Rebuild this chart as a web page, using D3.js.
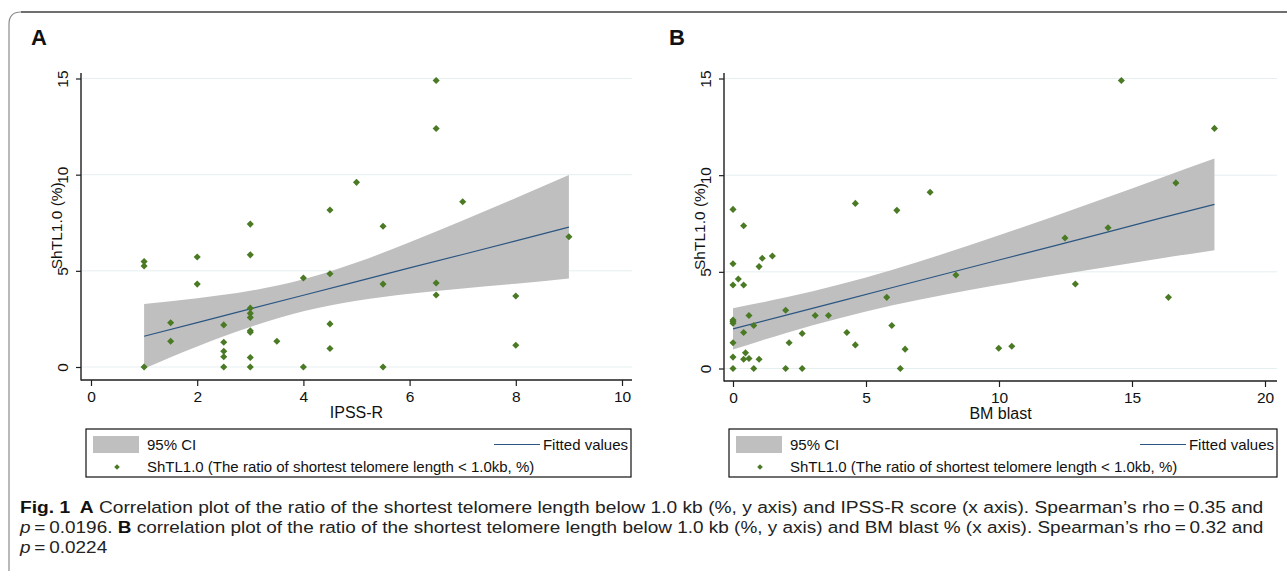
<!DOCTYPE html>
<html>
<head>
<meta charset="utf-8">
<script src="https://cdn.jsdelivr.net/npm/d3@7"></script>
<style>
  html, body { margin: 0; padding: 0; background: #fff; }
  svg { display: block; }
  text { font-family: "Liberation Sans", Arial, sans-serif; }
</style>
</head>
<body>
<script>
// ---------------- DATA ----------------
// Panel A: IPSS-R vs ShTL1.0 (%)
const ipssX = [1, 1, 1, 1.5, 1.5, 2, 2, 2.5, 2.5, 2.5, 2.5, 2.5, 3, 3, 3, 3, 3, 3, 3, 3, 3, 3.5, 4, 4, 4.5, 4.5, 4.5, 4.5, 5, 5.5, 5.5, 5.5, 6.5, 6.5, 6.5, 6.5, 7, 8, 8, 9];
const ipssY = [5.48, 5.25, 0, 2.3, 1.34, 5.72, 4.31, 2.19, 1.29, 0.82, 0.53, 0, 7.43, 5.83, 3.06, 2.79, 2.58, 1.88, 1.81, 0.49, 0, 1.34, 4.63, 0, 8.16, 4.85, 2.24, 0.96, 9.6, 7.32, 4.31, 0, 14.9, 12.4, 4.37, 3.74, 8.59, 3.69, 1.13, 6.77];
// fitted line and 95% CI for panel A
const fitAX = [1, 2, 3, 4, 5, 6, 7, 8, 9];
const fitAY = [1.6, 2.31, 3.02, 3.73, 4.44, 5.15, 5.85, 6.56, 7.27];
const ciALo = [-0.08, 1.07, 2.08, 2.9, 3.45, 3.81, 4.08, 4.33, 4.6];
const ciAHi = [3.27, 3.58, 3.96, 4.56, 5.43, 6.49, 7.62, 8.79, 9.98];

// Panel B: BM blast vs ShTL1.0 (%)
const blastX = [0, 0.4, 0, 0.98, 1.1, 1.48, 0.2, 0, 0.4, 4.6, 6.16, 7.41, 8.38, 12.48, 14.1, 16.65, 12.87, 16.37, 5.78, 0, 0, 0, 0.6, 0.78, 0.4, 1.98, 3.09, 3.59, 5.97, 0, 2.11, 2.6, 4.28, 4.6, 6.47, 9.99, 10.48, 0, 0.47, 0.4, 0.6, 0.98, 0, 0.78, 1.98, 2.6, 6.29, 14.6, 18.1];
const blastY = [8.23, 7.38, 5.42, 5.27, 5.7, 5.82, 4.63, 4.32, 4.32, 8.54, 8.18, 9.12, 4.84, 6.75, 7.28, 9.6, 4.37, 3.68, 3.68, 2.51, 2.43, 2.34, 2.74, 2.22, 1.86, 3.01, 2.74, 2.74, 2.22, 1.33, 1.33, 1.81, 1.86, 1.22, 1.0, 1.05, 1.15, 0.59, 0.81, 0.48, 0.52, 0.48, 0, 0, 0, 0, 0, 14.9, 12.42];
const fitBX = [0, 2, 4, 6, 8, 10, 12, 14, 16, 18.1];
const fitBY = [2.05, 2.76, 3.47, 4.19, 4.9, 5.61, 6.32, 7.03, 7.75, 8.49];
const ciBLo = [0.98, 1.84, 2.6, 3.27, 3.83, 4.33, 4.8, 5.24, 5.68, 6.12];
const ciBHi = [3.12, 3.68, 4.34, 5.11, 5.97, 6.89, 7.84, 8.82, 9.82, 10.86];

// ticks and labels
const xTicksA = [0, 2, 4, 6, 8, 10];
const xTicksB = [0, 5, 10, 15, 20];
const yTicks = [0, 5, 10, 15];
const panelLetters = ["A", "B"];
const xTitles = ["IPSS-R", "BM blast"];
const yTitle = "ShTL1.0 (%)";
const legendCI = "95% CI";
const legendFit = "Fitted values";
const legendPts = "ShTL1.0 (The ratio of shortest telomere length < 1.0kb, %)";

// ---------------- STYLE ----------------
const C_PT = "#4a7a24";
const C_BAND = "#bfbfbf";
const C_LINE = "#2c5682";
const C_GRID = "#e6eff0";
const C_AX = "#1e1e1e";

const W = 1287, H = 571;
const svg = d3.select("body").append("svg").attr("width", W).attr("height", H);

// outer frame
svg.append("path")
  .attr("d", "M 9 600 L 9 24 Q 9 12 21 12 L 1300 12")
  .attr("fill", "none").attr("stroke", "#8c8c8c").attr("stroke-width", 1.2);
svg.append("path")
  .attr("d", "M 21 12 L 1300 12")
  .attr("fill", "none").attr("stroke", "#6f6f6f").attr("stroke-width", 2);

// rotated-square symbol
const diamondSq = {
  draw(ctx, size) {
    const r = Math.sqrt(size) * 0.62625;
    ctx.moveTo(0, -r); ctx.lineTo(r, 0); ctx.lineTo(0, r); ctx.lineTo(-r, 0); ctx.closePath();
  }
};

function panel(cfg) {
  const g = svg.append("g");
  const x = d3.scaleLinear().domain(cfg.xDom).range(cfg.xRange);
  const y = d3.scaleLinear().domain([0, 15]).range(cfg.yRange);

  // panel letter
  g.append("text").attr("x", cfg.letterX).attr("y", 45)
    .attr("font-size", 22).attr("font-weight", "bold").attr("fill", "#111")
    .text(cfg.letter);

  // gridlines
  g.selectAll("line.grid").data(yTicks).join("line").attr("class", "grid")
    .attr("x1", cfg.axX + 1).attr("x2", cfg.axRight)
    .attr("y1", d => y(d)).attr("y2", d => y(d))
    .attr("stroke", C_GRID).attr("stroke-width", 1);

  // CI band
  const band = cfg.fx.map((v, i) => ({ x: v, lo: cfg.lo[i], hi: cfg.hi[i], f: cfg.fy[i] }));
  g.append("path").datum(band)
    .attr("d", d3.area().x(d => x(d.x)).y0(d => y(d.lo)).y1(d => y(d.hi)).curve(d3.curveMonotoneX))
    .attr("fill", C_BAND);

  // fitted line
  g.append("path").datum(band)
    .attr("d", d3.line().x(d => x(d.x)).y(d => y(d.f)))
    .attr("fill", "none").attr("stroke", C_LINE).attr("stroke-width", 1.2);

  // points
  const sym = d3.symbol().type(diamondSq).size(32);
  g.selectAll("path.pt").data(cfg.px.map((v, i) => [v, cfg.py[i]])).join("path")
    .attr("class", "pt")
    .attr("transform", d => `translate(${x(d[0])},${y(d[1])})`)
    .attr("d", sym).attr("fill", C_PT);

  // axis lines
  g.append("line").attr("x1", cfg.axX).attr("x2", cfg.axX).attr("y1", cfg.axTop).attr("y2", cfg.axY + 0.5)
    .attr("stroke", C_AX).attr("stroke-width", 1.4);
  g.append("line").attr("x1", cfg.axX).attr("x2", cfg.axRight).attr("y1", cfg.axY).attr("y2", cfg.axY)
    .attr("stroke", C_AX).attr("stroke-width", 1.4);

  // x axis ticks
  const xa = g.append("g").attr("transform", `translate(0,${cfg.axY})`)
    .call(d3.axisBottom(x).tickValues(cfg.xTicks).tickSize(6).tickSizeOuter(0).tickPadding(5).tickFormat(d3.format("d")));
  xa.select(".domain").remove();
  xa.selectAll("line").attr("stroke", C_AX).attr("stroke-width", 1.2);
  xa.selectAll("text").attr("font-size", 15.5).attr("fill", "#111")
    .attr("font-family", "Liberation Sans, Arial, sans-serif").attr("dy", null).attr("y", 22);

  // y axis ticks
  const ya = g.append("g").attr("transform", `translate(${cfg.axX},0)`)
    .call(d3.axisLeft(y).tickValues(yTicks).tickSize(5).tickSizeOuter(0).tickFormat(d3.format("d")));
  ya.select(".domain").remove();
  ya.selectAll("line").attr("stroke", C_AX).attr("stroke-width", 1.2);
  ya.selectAll("text").attr("font-size", 15.5).attr("fill", "#111")
    .attr("font-family", "Liberation Sans, Arial, sans-serif")
    .attr("x", null).attr("dy", null)
    .attr("text-anchor", "middle")
    .attr("transform", "translate(-13,0) rotate(-90)");

  // axis titles
  g.append("text").attr("x", (cfg.axX + cfg.axRight) / 2).attr("y", cfg.axY + 38)
    .attr("text-anchor", "middle").attr("font-size", 16).attr("fill", "#111").text(cfg.xTitle);
  g.append("text").attr("transform", `translate(${cfg.axX - 19},${(y(5) + y(10)) / 2 + 3}) rotate(-90)`)
    .attr("text-anchor", "middle").attr("font-size", 15.5).attr("fill", "#111").text(yTitle);

  // legend
  const L = cfg.leg;
  g.append("rect").attr("x", L.x).attr("y", L.y).attr("width", L.w).attr("height", L.h)
    .attr("fill", "#fff").attr("stroke", "#111").attr("stroke-width", 1.2);
  g.append("rect").attr("x", L.x + 7).attr("y", L.y + 7).attr("width", 46).attr("height", 17).attr("fill", C_BAND);
  g.append("text").attr("x", L.x + 61).attr("y", L.y + 21).attr("font-size", 15).attr("fill", "#111").text(legendCI);
  g.append("line").attr("x1", L.x + L.w - 137).attr("x2", L.x + L.w - 91)
    .attr("y1", L.y + 15.5).attr("y2", L.y + 15.5).attr("stroke", C_LINE).attr("stroke-width", 1.2);
  g.append("text").attr("x", L.x + L.w - 3).attr("y", L.y + 21).attr("text-anchor", "end")
    .attr("font-size", 15).attr("fill", "#111").text(legendFit);
  g.append("path").attr("transform", `translate(${L.x + 31},${L.y + 38})`)
    .attr("d", d3.symbol().type(diamondSq).size(20)).attr("fill", C_PT);
  g.append("text").attr("x", L.x + 61).attr("y", L.y + 43).attr("font-size", 15).attr("fill", "#111").text(legendPts);
}

panel({
  letter: panelLetters[0], letterX: 31,
  xDom: [0, 10], xRange: [91, 622], yRange: [367, 78.5],
  axX: 81, axY: 380, axTop: 73, axRight: 632,
  xTicks: xTicksA, xTitle: xTitles[0],
  px: ipssX, py: ipssY, fx: fitAX, fy: fitAY, lo: ciALo, hi: ciAHi,
  leg: { x: 86, y: 429, w: 545, h: 48 }
});
panel({
  letter: panelLetters[1], letterX: 669,
  xDom: [0, 20], xRange: [733, 1265], yRange: [368.5, 78.5],
  axX: 724, axY: 381, axTop: 73, axRight: 1277,
  xTicks: xTicksB, xTitle: xTitles[1],
  px: blastX, py: blastY, fx: fitBX, fy: fitBY, lo: ciBLo, hi: ciBHi,
  leg: { x: 729, y: 429, w: 548, h: 48 }
});

// ---------------- CAPTION ----------------
const capFont = "'Liberation Sans Narrow', 'Liberation Sans', Arial, sans-serif";
const capLines = [
  [["Fig. 1", "bold"], ["\u2002", ""], ["A", "bold"], [" Correlation plot of the ratio of the shortest telomere length below 1.0 kb (%, y axis) and IPSS-R score (x axis). Spearman\u2019s rho\u2009=\u20090.35 and", ""]],
  [["p", "italic"], ["\u2009=\u20090.0196. ", ""], ["B", "bold"], [" correlation plot of the ratio of the shortest telomere length below 1.0 kb (%, y axis) and BM blast % (x axis). Spearman\u2019s rho\u2009=\u20090.32 and", ""]],
  [["p", "italic"], ["\u2009=\u20090.0224", ""]]
];
const capBase = [513, 533, 553];
const capWidth = [1244, 1244, null];
let lastK = 1;
capLines.forEach((parts, i) => {
  const t = svg.append("text").attr("font-size", 17).attr("fill", "#222")
    .style("font-family", capFont).attr("x", 0).attr("y", 0);
  parts.forEach(([s, st]) => {
    const ts = t.append("tspan").text(s);
    if (st === "bold") ts.attr("font-weight", "bold").attr("fill", "#111");
    if (st === "italic") ts.attr("font-style", "italic");
  });
  const w = t.node().getComputedTextLength();
  const k = capWidth[i] ? capWidth[i] / w : lastK;
  lastK = k;
  t.attr("transform", `translate(20,${capBase[i]}) scale(${k},1)`);
});
</script>
</body>
</html>
